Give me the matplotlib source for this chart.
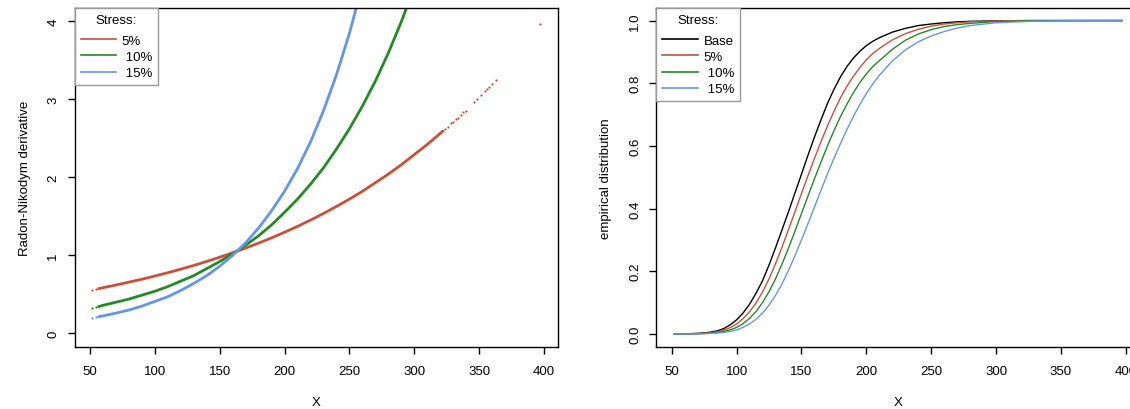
import matplotlib
matplotlib.use("Agg")
import matplotlib.pyplot as plt
from matplotlib.legend_handler import HandlerLine2D

plt.rcParams['font.family'] = ['Liberation Sans', 'DejaVu Sans']
plt.rcParams['font.size'] = 9.5

# colours of the stress levels
c_base = 'black'
c_5 = '#CD4F39'
c_10 = '#228B22'
c_15 = '#6495ED'

# ---- left panel: Radon-Nikodym derivative ----
rn_x_5 = [57, 60, 70, 80, 90, 100, 110, 120, 130, 140, 150, 160, 170, 180, 190,
          200, 210, 220, 230, 240, 250, 260, 270, 280, 290, 300, 310, 322]
rn_y_5 = [0.575, 0.586, 0.62, 0.657, 0.694, 0.735, 0.778, 0.823, 0.871, 0.922,
          0.976, 1.033, 1.093, 1.157, 1.224, 1.296, 1.371, 1.451, 1.536, 1.626,
          1.72, 1.82, 1.93, 2.04, 2.16, 2.29, 2.42, 2.59]
# sparse samples in the tails
rn_tail_x_5 = [52, 55, 324, 326, 328.4, 329.9, 332, 333.6, 335.9, 337.7, 339.8,
               346, 348.3, 351.4, 354.7, 355.8, 357.3, 359.9, 363, 397]
rn_tail_y_5 = [0.56, 0.57, 2.62, 2.65, 2.69, 2.71, 2.74, 2.76, 2.80, 2.83, 2.85,
               2.96, 3.00, 3.05, 3.11, 3.13, 3.16, 3.19, 3.25, 3.96]

rn_x_10 = [57, 60, 70, 80, 90, 100, 110, 120, 130, 140, 150, 160, 170, 180, 190,
           200, 210, 220, 230, 240, 250, 260, 270, 280, 290, 300]
rn_y_10 = [0.345, 0.36, 0.40, 0.44, 0.49, 0.54, 0.60, 0.67, 0.74, 0.83, 0.92,
           1.02, 1.13, 1.25, 1.39, 1.55, 1.72, 1.91, 2.12, 2.36, 2.62, 2.91,
           3.23, 3.59, 3.99, 4.43]
rn_tail_x_10 = [52, 54.5]
rn_tail_y_10 = [0.33, 0.335]

rn_x_15 = [57, 60, 70, 80, 90, 100, 110, 120, 130, 140, 150, 160, 170, 180,
           190, 200, 210, 220, 230, 240, 250, 260]
rn_y_15 = [0.215, 0.225, 0.26, 0.30, 0.35, 0.41, 0.47, 0.55, 0.64, 0.74, 0.86,
           1.00, 1.16, 1.35, 1.57, 1.82, 2.11, 2.45, 2.85, 3.31, 3.84, 4.46]
rn_tail_x_15 = [52, 54.5]
rn_tail_y_15 = [0.20, 0.205]

# ---- right panel: empirical distributions ----
cdf_x = [52, 60, 70, 75, 80, 85, 90, 95, 100, 105, 110, 115, 120, 125, 130,
         135, 140, 145, 150, 155, 160, 165, 170, 175, 180, 185, 190, 195, 200,
         205, 210, 220, 230, 240, 250, 260, 270, 280, 300, 330, 360, 397]
cdf_base = [0, 0.0005, 0.002, 0.0035, 0.006, 0.010, 0.017, 0.029, 0.045, 0.067,
            0.095, 0.13, 0.17, 0.22, 0.275, 0.332, 0.39, 0.45, 0.51, 0.57,
            0.628, 0.683, 0.735, 0.78, 0.82, 0.853, 0.88, 0.902, 0.92, 0.934,
            0.945, 0.963, 0.975, 0.984, 0.989, 0.993, 0.996, 0.9975, 0.9993,
            1.0, 1.0, 1.0]
cdf_5 = [0, 0.0003, 0.0012, 0.0022, 0.004, 0.007, 0.012, 0.02, 0.032, 0.049,
         0.071, 0.099, 0.134, 0.176, 0.224, 0.277, 0.333, 0.39, 0.448, 0.505,
         0.56, 0.613, 0.663, 0.71, 0.753, 0.79, 0.822, 0.85, 0.875, 0.895,
         0.911, 0.938, 0.958, 0.972, 0.982, 0.989, 0.993, 0.996, 0.999, 1.0,
         1.0, 1.0]
cdf_10 = [0, 0.0002, 0.0008, 0.0015, 0.0027, 0.0047, 0.008, 0.013, 0.021, 0.033,
          0.05, 0.072, 0.1, 0.135, 0.176, 0.223, 0.274, 0.328, 0.384, 0.44,
          0.495, 0.548, 0.6, 0.648, 0.693, 0.733, 0.77, 0.802, 0.83, 0.853,
          0.872, 0.908, 0.937, 0.957, 0.971, 0.981, 0.987, 0.991, 0.997,
          0.9995, 1.0, 1.0]
cdf_15 = [0, 0.0001, 0.0005, 0.001, 0.0018, 0.003, 0.005, 0.008, 0.013, 0.021,
          0.032, 0.047, 0.067, 0.092, 0.123, 0.16, 0.203, 0.25, 0.3, 0.352,
          0.405, 0.458, 0.51, 0.56, 0.607, 0.652, 0.694, 0.732, 0.767, 0.798,
          0.825, 0.871, 0.906, 0.932, 0.951, 0.965, 0.976, 0.984, 0.993, 0.998,
          0.9995, 1.0]

x_ticks = [50, 100, 150, 200, 250, 300, 350, 400]


def style_axes(ax):
    for s in ax.spines.values():
        s.set_linewidth(1.0)
    ax.tick_params(direction='out', length=5, width=1.0, pad=8)
    ax.tick_params(axis='y', pad=6)
    for lab in ax.get_yticklabels():
        lab.set_rotation(90)
        lab.set_va('center')
    ax.set_xticks(x_ticks)
    ax.set_xlabel('X', labelpad=14)


def add_legend(ax):
    leg = ax.legend(loc='upper left', bbox_to_anchor=(0, 1), borderaxespad=0,
                    title='Stress:', fancybox=False, framealpha=1,
                    edgecolor='#9a9a9a', handlelength=2.71, handletextpad=0.42,
                    borderpad=0.45, labelspacing=0.3, fontsize=9.5,
                    title_fontsize=9.5,
                    handler_map={plt.Line2D: HandlerLine2D(marker_pad=0.41)})
    leg.get_frame().set_linewidth(1.0)
    # a little more room between the title and the entries
    leg._legend_box.sep = 0.3 * 9.5 + 3.3
    for ln in leg.get_lines():
        ln.set_linewidth(1.2)
    return leg


fig = plt.figure(figsize=(11.3, 4.1), dpi=100)
ax1 = fig.add_axes([0.066, 0.1524, 0.4278, 0.8256])
ax2 = fig.add_axes([0.5809, 0.1524, 0.4278, 0.8256])

ax1.plot(rn_x_5, rn_y_5, color=c_5, lw=2.0, label='5%')
ax1.plot(rn_x_10, rn_y_10, color=c_10, lw=2.0, label=' 10%')
ax1.plot(rn_x_15, rn_y_15, color=c_15, lw=2.0, label=' 15%')
ax1.plot(rn_tail_x_5, rn_tail_y_5, ls='none', marker='o', ms=1.6, mew=0, color=c_5)
ax1.plot(rn_tail_x_10, rn_tail_y_10, ls='none', marker='o', ms=1.6, mew=0, color=c_10)
ax1.plot(rn_tail_x_15, rn_tail_y_15, ls='none', marker='o', ms=1.6, mew=0, color=c_15)
ax1.set_xlim(38.2, 410.8)
ax1.set_ylim(-0.167, 4.167)
ax1.set_yticks([0, 1, 2, 3, 4])
ax1.set_ylabel('Radon-Nikodym derivative', labelpad=12)
style_axes(ax1)
add_legend(ax1)

ax2.plot(cdf_x, cdf_base, color=c_base, lw=1.0, label='Base')
ax2.plot(cdf_x, cdf_5, color=c_5, lw=1.0, label='5%')
ax2.plot(cdf_x, cdf_10, color=c_10, lw=1.0, label=' 10%')
ax2.plot(cdf_x, cdf_15, color=c_15, lw=1.0, label=' 15%')
ax2.set_xlim(38.2, 410.8)
ax2.set_ylim(-0.04, 1.04)
ax2.set_yticks([0.0, 0.2, 0.4, 0.6, 0.8, 1.0])
ax2.set_yticklabels(['0.0', '0.2', '0.4', '0.6', '0.8', '1.0'])
ax2.set_ylabel('empirical distribution', labelpad=12)
style_axes(ax2)
add_legend(ax2)

fig.savefig('out.png', dpi=100)
